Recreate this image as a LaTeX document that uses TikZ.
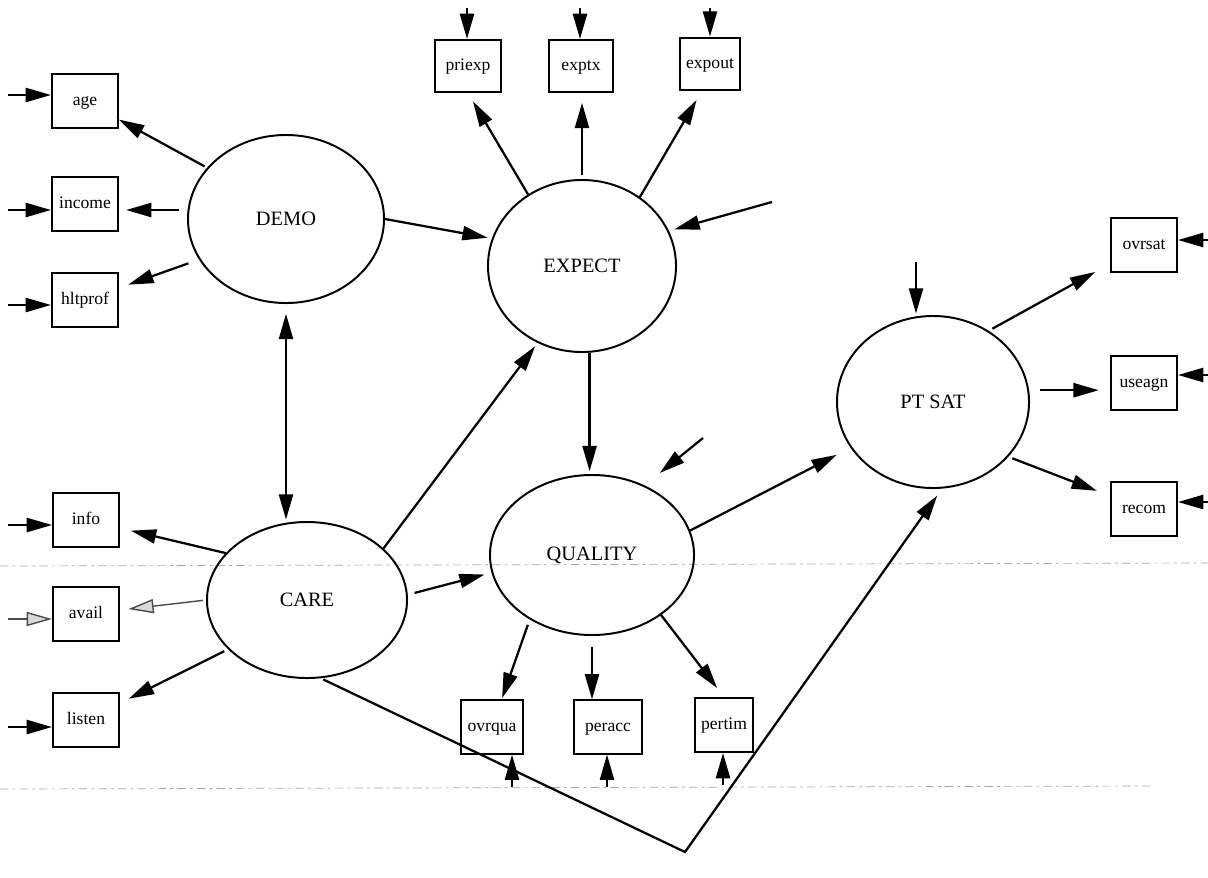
\documentclass[tikz,border=0pt]{standalone}
\usepackage{fontspec}
\setmainfont{Liberation Serif}
\usetikzlibrary{arrows.meta,shapes.geometric}
\begin{document}
\begin{tikzpicture}[x=0.025cm,y=-0.025cm,
  lat/.style={ellipse,draw,line width=1.4pt,inner sep=0pt,font=\fontsize{14.5}{16}\selectfont},
  obs/.style={rectangle,draw,line width=1.4pt,minimum width=1.65cm,minimum height=1.35cm,inner sep=0pt,text height=1.6ex,text depth=0.35ex,font=\fontsize{12.5}{14}\selectfont},
  arr/.style={line width=1.6pt,-{Triangle[length=18pt,width=10pt]}},
  darr/.style={line width=1.6pt,{Triangle[length=18pt,width=10pt]}-{Triangle[length=18pt,width=10pt]}},
  oarr/.style={line width=1pt,draw=black!70,-{Triangle[open,length=18pt,width=10pt,fill=black!15]}},
  scanline/.style={draw=black!35,line width=0.5pt,dash pattern=on 6pt off 3pt on 2pt off 3pt}
]
\useasboundingbox (0,0) rectangle (1208,877);
% faint scan lines
\coordinate (s1a) at (0,566); \coordinate (s1b) at (1208,563);
\coordinate (s2a) at (0,789); \coordinate (s2b) at (1150,786);
\draw[scanline] (s1a) -- (s1b);
\draw[scanline] (s2a) -- (s2b);

% latent variables
\node[lat,minimum width=4.9cm,minimum height=4.2cm] (demo) at (286,219) {DEMO};
\node[lat,minimum width=4.7cm,minimum height=4.3cm] (expect) at (582,266) {EXPECT};
\node[lat,minimum width=4.8cm,minimum height=4.3cm] (ptsat) at (933,402) {PT SAT};
\node[lat,minimum width=5.1cm,minimum height=4.0cm] (quality) at (592,555) {QUALITY};
\node[lat,minimum width=5.0cm,minimum height=3.9cm] (care) at (307,600) {CARE};

% observed variables
\node[obs] (age) at (85,101) {age};
\node[obs] (income) at (85,204) {income};
\node[obs] (hltprof) at (85,300) {hltprof};
\node[obs] (info) at (86,520) {info};
\node[obs] (avail) at (86,614) {avail};
\node[obs] (listen) at (86,720) {listen};
\node[obs,minimum height=1.3cm] (priexp) at (468,66) {priexp};
\node[obs,minimum width=1.62cm,minimum height=1.3cm] (exptx) at (581,66) {exptx};
\node[obs,minimum width=1.5cm,minimum height=1.32cm] (expout) at (710,64) {expout};
\node[obs,minimum height=1.37cm] (ovrsat) at (1144,245) {ovrsat};
\node[obs] (useagn) at (1144,383) {useagn};
\node[obs,minimum height=1.37cm] (recom) at (1144,509) {recom};
\node[obs,minimum width=1.55cm,minimum height=1.33cm] (ovrqua) at (492,727) {ovrqua};
\node[obs,minimum width=1.68cm,minimum height=1.33cm] (peracc) at (608,727) {peracc};
\node[obs,minimum width=1.45cm,minimum height=1.35cm] (pertim) at (724,725) {pertim};

% free ends of error arrows
\coordinate (eage) at (8,95);
\coordinate (einc) at (8,210);
\coordinate (ehlt) at (8,305);
\coordinate (einf) at (8,525);
\coordinate (eava) at (8,619);
\coordinate (elis) at (8,727);
\coordinate (epri) at (467,8);
\coordinate (eptx) at (580,8);
\coordinate (eout) at (710,8);
\coordinate (eovs) at (1208,240);
\coordinate (euse) at (1208,375);
\coordinate (erec) at (1208,502);
\coordinate (eovq) at (512,787);
\coordinate (epac) at (607,787);
\coordinate (epti) at (723,785);
\coordinate (epts) at (916,262);
\coordinate (eexp) at (772,202);
\coordinate (equa) at (703,438);
\coordinate (bend) at (685,852);

% error arrows into indicators
\draw[arr] (eage) -- (eage -| age.west);
\draw[arr] (einc) -- (einc -| income.west);
\draw[arr] (ehlt) -- (ehlt -| hltprof.west);
\draw[arr] (einf) -- (einf -| info.west);
\draw[oarr] (eava) -- (eava -| avail.west);
\draw[arr] (elis) -- (elis -| listen.west);
\draw[arr] (epri) -- (epri |- priexp.north);
\draw[arr] (eptx) -- (eptx |- exptx.north);
\draw[arr] (eout) -- (eout |- expout.north);
\draw[arr] (eovs) -- (eovs -| ovrsat.east);
\draw[arr] (euse) -- (euse -| useagn.east);
\draw[arr] (erec) -- (erec -| recom.east);
\draw[arr] (eovq) -- (eovq |- ovrqua.south);
\draw[arr] (epac) -- (epac |- peracc.south);
\draw[arr] (epti) -- (epti |- pertim.south);
\draw[arr,shorten >=1pt] (epts) -- (epts |- ptsat.north);
\draw[arr,shorten >=4pt] (eexp) -- (expect.22);
\draw[arr,shorten >=14pt] (equa) -- (quality.53);

% DEMO
\draw[arr,shorten <=2pt] (demo.147) -- (age);
\draw[arr,shorten <=6pt,shorten >=5pt] (demo.west |- einc) -- (einc -| income.east);
\draw[arr,shorten <=8pt,shorten >=7pt] (demo.205) -- (hltprof);
\draw[arr,shorten >=3pt] (demo.east) -- (expect.163);
\draw[darr,shorten <=7pt,shorten >=1pt] (demo.south) -- (demo.south |- care.north);

% EXPECT
\draw[arr,shorten >=7pt] (expect.127) -- (priexp.south);
\draw[arr,shorten <=3pt,shorten >=7pt] (expect.north) -- (expect.north |- exptx.south);
\draw[arr,shorten >=7pt] (expect.50) -- ([xshift=-6pt]expout.south);
\draw[arr,shorten >=2pt] (expect.275) -- (expect.275 |- quality.north);

% CARE
\draw[arr,shorten >=3pt] (care.34) -- (expect.240);
\draw[arr,shorten <=5pt,shorten >=5pt] (care.3) -- (quality.190);
\draw[arr,shorten >=8pt] (care.150) -- (info);
\draw[oarr,shorten <=2pt,shorten >=6pt] (care.west) -- (avail);
\draw[arr,shorten <=3pt,shorten >=7pt] (care.212) -- (listen);
\draw[arr,shorten <=2pt,shorten >=6pt] (care.280) -- (bend) -- (ptsat.276);

% QUALITY
\draw[arr,shorten <=4pt,shorten >=1pt] (quality.226) -- (ovrqua);
\draw[arr,shorten <=8pt] (quality.south) -- (quality.south |- peracc.north);
\draw[arr,shorten >=8pt] (quality.319) -- (pertim.north);
\draw[arr,shorten >=11pt] (quality.14) -- (ptsat.209);

% PT SAT
\draw[arr,shorten <=3pt,shorten >=12pt] (ptsat.52) -- (ovrsat);
\draw[arr,shorten <=8pt,shorten >=8pt] (ptsat.7) -- (ptsat.7 -| useagn.west);
\draw[arr,shorten <=3pt,shorten >=10pt] (ptsat.324) -- (recom);
\end{tikzpicture}
\end{document}
